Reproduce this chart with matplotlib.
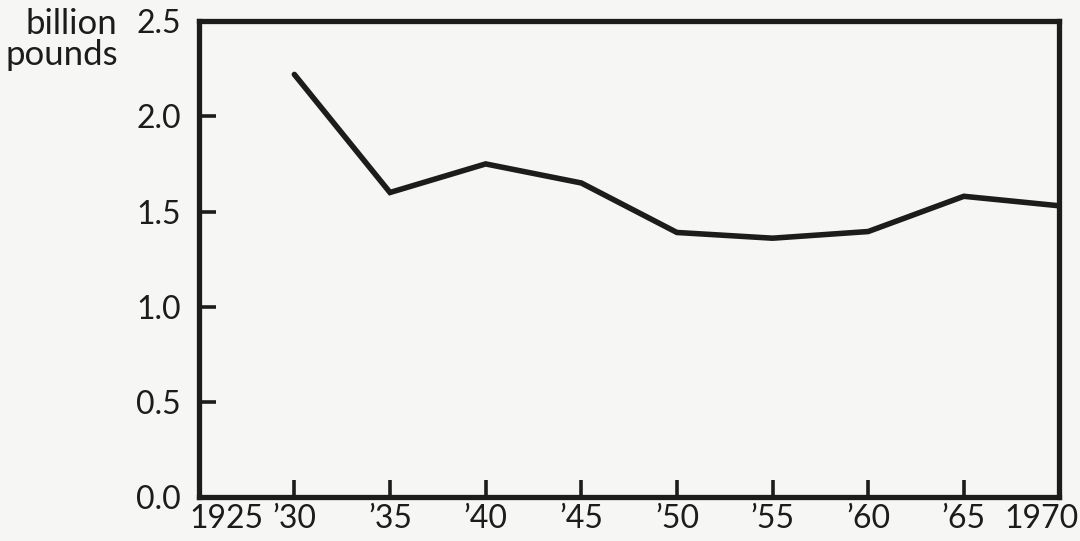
"""
Line chart: billion pounds, 1925-1970.
Writes out.png.
"""

import matplotlib
matplotlib.use("Agg")
import matplotlib.pyplot as plt
from matplotlib.transforms import ScaledTranslation

# ── Data ──────────────────────────────────────────────────────────────────────
years  = [1930, 1935, 1940, 1945, 1950, 1955, 1960, 1965, 1970]
values = [2.22, 1.60, 1.75, 1.65, 1.39, 1.36, 1.395, 1.58, 1.53]

xticks      = [1925, 1930, 1935, 1940, 1945, 1950, 1955, 1960, 1965, 1970]
xticklabels = ["1925", "\u201930", "\u201935", "\u201940", "\u201945",
               "\u201950", "\u201955", "\u201960", "\u201965", "1970"]
yticks      = [0.0, 0.5, 1.0, 1.5, 2.0, 2.5]

BG = "#f6f6f4"
INK = "#1c1c1a"

plt.rcParams["font.family"] = ["Lato", "DejaVu Sans"]

fig = plt.figure(figsize=(10.8, 5.41), dpi=100, facecolor=BG)
ax = fig.add_axes([0.184, 0.081, 0.797, 0.880], facecolor=BG)

ax.plot(years, values, color=INK, linewidth=4.0, solid_joinstyle="miter",
        solid_capstyle="round", zorder=3)

ax.set_xlim(1925, 1970)
ax.set_ylim(0, 2.5)

ax.set_xticks(xticks)
ax.set_xticklabels(xticklabels)
ax.set_yticks(yticks)
ax.set_yticklabels([f"{v:.1f}" for v in yticks])

for s in ax.spines.values():
    s.set_linewidth(3.8)
    s.set_color(INK)

ax.tick_params(axis="both", direction="in", length=12, width=2.6, color=INK,
               labelsize=23, labelcolor=INK)
ax.tick_params(axis="x", pad=5)
ax.tick_params(axis="y", pad=13)

# corner labels are nudged inward, as in the original print
xlabs = ax.get_xticklabels()
xlabs[0].set_transform(xlabs[0].get_transform()
                       + ScaledTranslation(0.28, 0, fig.dpi_scale_trans))
xlabs[-1].set_transform(xlabs[-1].get_transform()
                        + ScaledTranslation(-0.18, 0, fig.dpi_scale_trans))
# hide the tick marks sitting on the corners
for t in (ax.xaxis.get_major_ticks()[0], ax.xaxis.get_major_ticks()[-1],
          ax.yaxis.get_major_ticks()[0], ax.yaxis.get_major_ticks()[-1]):
    t.tick1line.set_visible(False)

fig.text(0.109, 0.985, "billion\npounds", ha="right", va="top",
         fontsize=25, color=INK, linespacing=0.95)

fig.savefig("out.png", dpi=100, facecolor=BG)
